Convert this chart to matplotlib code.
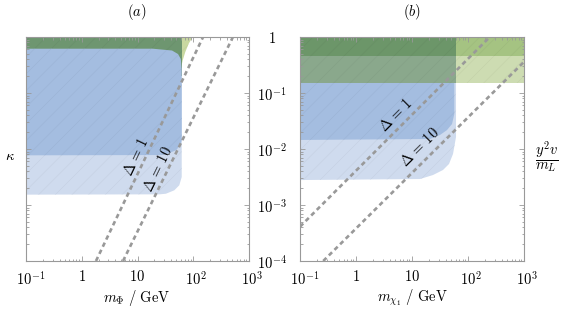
import numpy as np
import matplotlib
matplotlib.use("Agg")
import matplotlib.pyplot as plt
from matplotlib.transforms import ScaledTranslation

plt.rcParams['mathtext.fontset'] = 'cm'
plt.rcParams['hatch.linewidth'] = 0.35

# axis ranges
m_lim = [1e-1, 1e3]
y_lim = [1e-4, 1]

# ---- panel (a): m_Phi [GeV] vs kappa ----
# light blue region, lower-right boundary (m, kappa)
a_lb_m = [0.1, 25.0, 32.4, 45.7, 56.2, 62.1, 62.1]
a_lb_k = [1.53e-3, 1.55e-3, 1.59e-3, 1.83e-3, 2.25e-3, 3.16e-3, 1.0]
# medium blue region boundary, from bottom-left round to top-left
a_mb_m = [0.1, 25.0, 32.4, 49.0, 59.0, 62.1, 62.1, 59.8, 53.2, 41.6, 18.8, 0.1]
a_mb_k = [7.71e-3, 7.8e-3, 8.04e-3, 9.48e-3, 0.01178, 0.0145, 0.2575, 0.405, 0.497, 0.574, 0.618, 0.618]
# dark green band
a_dg_m = [0.1, 62.1]
a_dg_k = [0.2, 1.0]
# light green sliver beyond the blue edge
a_lg_m = [62.1, 64.7, 72.0, 82.8, 98.0, 62.1]
a_lg_k = [0.316, 0.384, 0.54, 0.76, 1.0, 1.0]
# Delta lines
a_d1_m = [1.8, 150.0]
a_d1_k = [1e-4, 1.0]
a_d10_m = [5.5, 515.0]
a_d10_k = [1e-4, 1.0]
a_lab_pos = [(9.4, 7.2e-3), (23.0, 4.4e-3)]

# ---- panel (b): m_chi1 [GeV] vs y^2 v / m_L ----
b_lb_m = [0.1, 13.9, 23.7, 35.8, 45.8, 54.0, 61.1, 61.1]
b_lb_y = [2.79e-3, 2.91e-3, 3.43e-3, 4.22e-3, 5.4e-3, 8.15e-3, 0.0164, 1.0]
b_mb_m = [0.1, 20.9, 31.6, 42.2, 51.8, 57.0, 57.0]
b_mb_y = [0.0145, 0.0151, 0.0178, 0.0218, 0.0279, 0.0422, 1.0]
b_edge = 61.1
b_band1 = [0.151, 1.0]
b_band2 = [0.458, 1.0]
b_d1_m = [0.1, 245.0]
b_d1_y = [4.1e-4, 1.0]
b_d10_m = [0.26, 1000.0]
b_d10_y = [1e-4, 0.36]
b_lab_pos = [(5.2, 0.040), (14.0, 0.0106)]

x_ticks = [0.1, 1, 10, 100, 1000]
x_ticklabels = [r'$10^{-1}$', r'$1$', r'$10$', r'$10^2$', r'$10^3$']
x_label_shift = [5, 0, 0, 2.5, 2.5]   # px, keep the "10" centred on the tick
y_ticks = [1e-4, 1e-3, 1e-2, 1e-1, 1]
y_ticklabels = [r'$10^{-4}$', r'$10^{-3}$', r'$10^{-2}$', r'$10^{-1}$', r'$1$']

c_lblue = '#cfdbee'
c_mblue = '#a4bde0'
c_dgreen = '#6e9670'
c_lgreen = '#c8d8a0'
c_b_dgreen = '#6c9669'
c_b_mgreen = '#a5c382'
c_b_ggreen = '#8aa88c'
c_b_lgreen = '#cddcb2'
c_dash = '#999999'
c_frame = '#999999'
fs = 10.5


def darker(c, f=0.94):
    r, g, b = matplotlib.colors.to_rgb(c)
    return (r * f, g * f, b * f)


def patch(ax, xs, ys, c):
    ax.fill(xs, ys, facecolor=c, edgecolor=darker(c), lw=0, hatch='//', zorder=1)


def style(ax):
    ax.set_xscale('log')
    ax.set_yscale('log')
    ax.set_xlim(m_lim)
    ax.set_ylim(y_lim)
    for s in ax.spines.values():
        s.set_color(c_frame)
        s.set_linewidth(0.8)
    ax.tick_params(which='both', direction='in', top=True, right=True,
                   color=c_frame, width=0.6, labelsize=fs)
    ax.tick_params(which='major', length=3.5)
    ax.tick_params(which='minor', length=1.8)
    ax.set_xticks(x_ticks)
    ax.set_xticklabels(x_ticklabels)
    ax.xaxis.set_minor_formatter(matplotlib.ticker.NullFormatter())
    ax.yaxis.set_minor_formatter(matplotlib.ticker.NullFormatter())
    ax.tick_params(axis='x', pad=6)
    for lab, dx in zip(ax.get_xticklabels(), x_label_shift):
        lab.set_transform(lab.get_transform() + ScaledTranslation(dx / 100, 0, fig.dpi_scale_trans))


def delta_line(ax, xs, ys, pos, text):
    ax.plot(xs, ys, color=c_dash, lw=1.9, dashes=(1.7, 1.3), zorder=3)
    p = ax.transData.transform(list(zip(xs, ys)))
    ang = np.degrees(np.arctan2(p[1, 1] - p[0, 1], p[1, 0] - p[0, 0]))
    ax.text(pos[0], pos[1], text, rotation=ang, ha='center', va='center',
            rotation_mode='anchor', fontsize=10.5, zorder=4)


fig = plt.figure(figsize=(5.61, 3.14), dpi=100)
axa = fig.add_axes([26 / 561, 53 / 314, 223 / 561, 224 / 314])
axb = fig.add_axes([300 / 561, 53 / 314, 224 / 561, 224 / 314])
style(axa)
style(axb)

# panel (a)
patch(axa, a_lb_m + [0.1, 0.1], a_lb_k + [1.0, a_lb_k[0]], c_lblue)
patch(axa, a_lg_m, a_lg_k, c_lgreen)
patch(axa, [a_dg_m[0], a_dg_m[1], a_dg_m[1], a_dg_m[0]],
      [a_dg_k[0], a_dg_k[0], a_dg_k[1], a_dg_k[1]], c_dgreen)
patch(axa, a_mb_m, a_mb_k, c_mblue)
delta_line(axa, a_d1_m, a_d1_k, a_lab_pos[0], r'$\Delta\,=\,1$')
delta_line(axa, a_d10_m, a_d10_k, a_lab_pos[1], r'$\Delta\,=\,10$')
axa.set_yticks(y_ticks)
axa.set_yticklabels([])
axa.text(0.498, 1.112, r'$(a)$', transform=axa.transAxes, ha='center', va='center', fontsize=fs)
axa.text(0.498, -0.165, r'$m_\Phi\ /\ \mathrm{GeV}$', transform=axa.transAxes,
         ha='center', va='center', fontsize=fs)

# panel (b)
patch(axb, b_lb_m + [0.1, 0.1], b_lb_y + [1.0, b_lb_y[0]], c_lblue)
patch(axb, b_mb_m + [0.1, 0.1], b_mb_y + [1.0, b_mb_y[0]], c_mblue)
for (y0, y1), cl, cr in [(b_band1, c_b_ggreen, c_b_lgreen), (b_band2, c_b_dgreen, c_b_mgreen)]:
    patch(axb, [m_lim[0], b_edge, b_edge, m_lim[0]], [y0, y0, y1, y1], cl)
    patch(axb, [b_edge, m_lim[1], m_lim[1], b_edge], [y0, y0, y1, y1], cr)
delta_line(axb, b_d1_m, b_d1_y, b_lab_pos[0], r'$\Delta\,=\,1$')
delta_line(axb, b_d10_m, b_d10_y, b_lab_pos[1], r'$\Delta\,=\,10$')
axb.set_yticks(y_ticks)
axb.set_yticklabels(y_ticklabels, ha='center')
axb.tick_params(axis='y', pad=20)
axb.text(0.5, 1.112, r'$(b)$', transform=axb.transAxes, ha='center', va='center', fontsize=fs)
axb.text(0.5, -0.165, r'$m_{\chi_1}\ /\ \mathrm{GeV}$', transform=axb.transAxes,
         ha='center', va='center', fontsize=fs)

fig.text(10 / 561, 1 - 155 / 314, r'$\kappa$', ha='center', va='center', fontsize=fs)
fig.text(547 / 561, 1 - 157 / 314, r'$\dfrac{y^2 v}{m_L}$', ha='center', va='center', fontsize=fs)

fig.savefig('out.png', dpi=100)
